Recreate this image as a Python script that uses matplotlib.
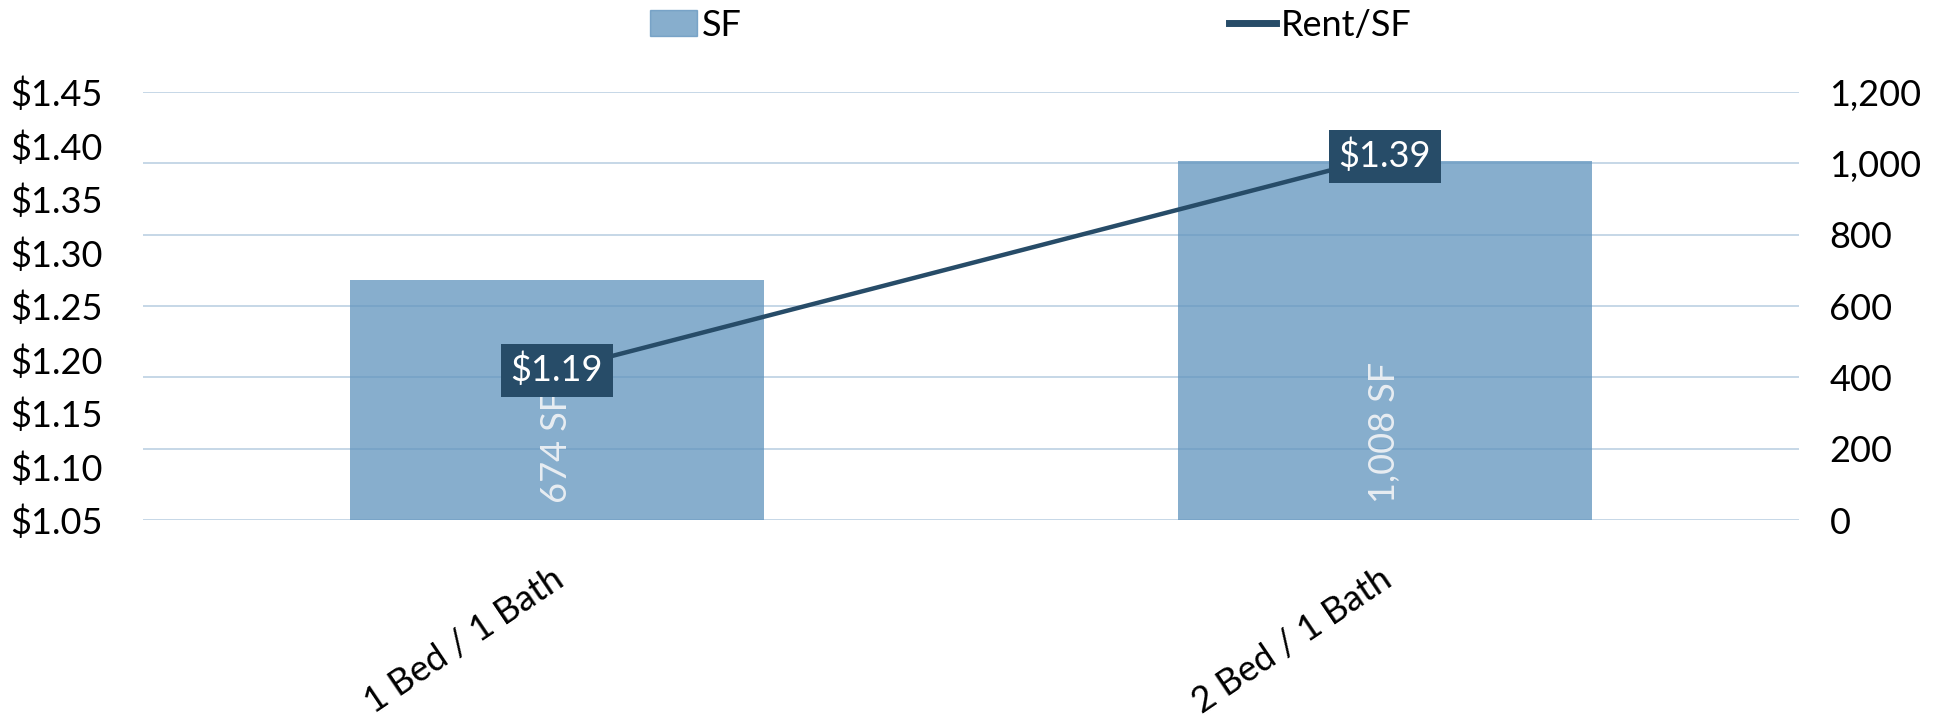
import matplotlib.pyplot as plt
import matplotlib.transforms as mtransforms
from matplotlib.lines import Line2D
from matplotlib.patches import Patch
from matplotlib.ticker import FuncFormatter

plt.rcParams['font.family'] = ['Lato', 'DejaVu Sans']

# unit mix data
units = ['1 Bed / 1 Bath', '2 Bed / 1 Bath']
sq_ft = [674, 1008]
rent_per_sf = [1.19, 1.39]

bar_color = '#5f93bd'
line_color = '#274c68'
grid_color = '#bcd1e3'
fs = 26

fig = plt.figure(figsize=(19.56, 7.15), dpi=100)
ax = fig.add_axes([0.0731, 0.2727, 0.8466, 0.5986])
x = list(range(len(units)))

# bars on the SF scale (shown on the right)
ax.bar(x, sq_ft, width=0.5, color=bar_color, alpha=0.75, zorder=2)
ax.set_ylim(0, 1200)
ax.set_yticks(range(0, 1201, 200))
ax.yaxis.set_major_formatter(FuncFormatter(lambda v, p: f'{int(v):,}'))
ax.yaxis.tick_right()
ax.grid(axis='y', color=grid_color, lw=1.2, zorder=0)
ax.set_axisbelow(True)
ax.set_xlim(-0.5, 1.5)
for xi, v in zip(x, sq_ft):
    ax.annotate(f'{v:,} SF', (xi, 0), xytext=(0, 12), textcoords='offset points',
                rotation=90, ha='center', va='bottom', color='#e8edf2', fontsize=fs, zorder=3)

# rent/SF line on the left scale
ax2 = ax.twinx()
ax2.yaxis.tick_left()
ax2.plot(x, rent_per_sf, color=line_color, lw=3.2, solid_capstyle='butt', zorder=3)
ax2.set_ylim(1.05, 1.45)
ax2.set_yticks([1.05 + 0.05 * i for i in range(9)])
ax2.yaxis.set_major_formatter(FuncFormatter(lambda v, p: f'${v:.2f}'))
for xi, v in zip(x, rent_per_sf):
    ax2.text(xi, v, f'${v:.2f}', ha='center', va='center', color='white', fontsize=fs,
             bbox=dict(boxstyle='square,pad=0.26', fc=line_color, ec='none'), zorder=4)

for a in (ax, ax2):
    for s in a.spines.values():
        s.set_visible(False)
ax.tick_params(axis='y', length=0, pad=22, labelsize=fs, labelright=True, labelleft=False)
ax2.tick_params(axis='y', length=0, pad=29, labelsize=fs, labelleft=True, labelright=False)

ax.set_xticks(x)
ax.set_xticklabels(units, rotation=34, ha='right', va='center', rotation_mode='anchor', fontsize=fs)
ax.tick_params(axis='x', length=0, pad=40)
shift = mtransforms.ScaledTranslation(0.03, 0, fig.dpi_scale_trans)
for lbl in ax.get_xticklabels():
    lbl.set_transform(lbl.get_transform() + shift)

handles = [Patch(color=bar_color, alpha=0.75, label='SF'),
           Line2D([], [], color=line_color, lw=5, label='Rent/SF')]
fig.legend(handles=handles, loc='center', bbox_to_anchor=(0.527, 0.965), ncol=2,
           frameon=False, fontsize=fs, handlelength=1.3, handleheight=0.72,
           handletextpad=0.12, columnspacing=13.5)

fig.savefig('out.png', dpi=100)
